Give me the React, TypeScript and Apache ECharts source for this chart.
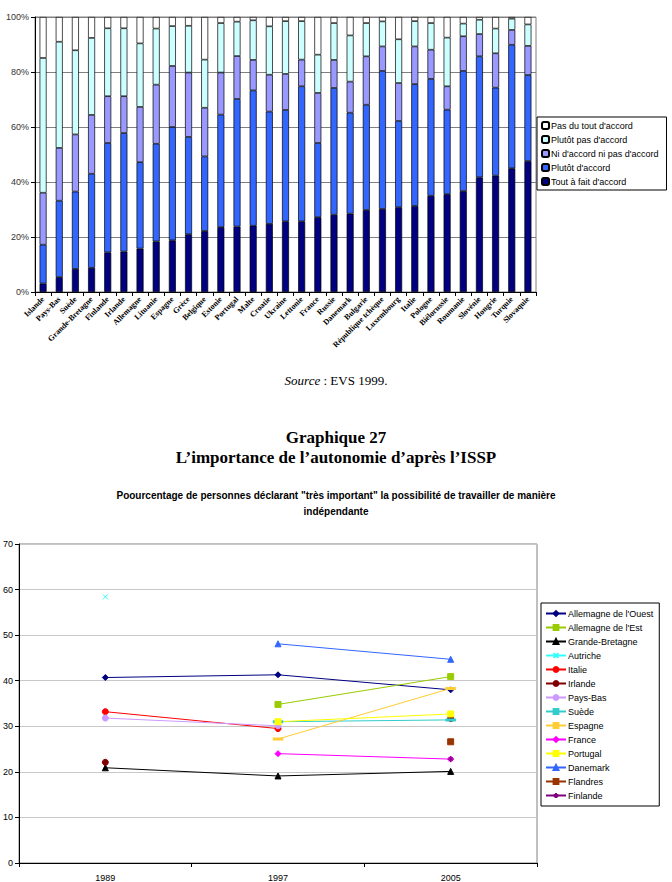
import React, { useEffect, useRef } from "react";
import * as echarts from "echarts";

// ---------- Bar chart data (EVS 1999) ----------
const countries = [
  "Islande", "Pays-Bas", "Suède", "Grande-Bretagne", "Finlande", "Irlande", "Allemagne", "Lituanie",
  "Espagne", "Grèce", "Belgique", "Estonie", "Portugal", "Malte", "Croatie", "Ukraine", "Lettonie",
  "France", "Russie", "Danemark", "Bulgarie", "République tchèque", "Luxembourg", "Italie", "Pologne",
  "Biélorussie", "Roumanie", "Slovénie", "Hongrie", "Turquie", "Slovaquie",
];
const toutAFait = [3.1, 5.4, 8.4, 8.8, 14.4, 14.7, 15.8, 18.4, 18.8, 21.0, 22.2, 23.6, 23.8, 24.1, 24.8, 25.7, 25.7, 27.2, 28.1, 28.5, 29.8, 30.2, 30.8, 31.3, 35.0, 35.6, 36.7, 41.7, 42.3, 45.0, 47.6];
const plutotAccord = [14.1, 27.8, 28.1, 34.2, 39.8, 43.1, 31.4, 35.5, 41.2, 35.4, 27.1, 40.9, 46.4, 49.2, 40.8, 40.5, 49.1, 27.0, 46.1, 36.7, 38.3, 50.2, 31.4, 44.3, 42.5, 30.7, 43.7, 44.0, 32.0, 44.9, 31.3];
const niNi = [18.9, 19.2, 20.8, 21.4, 17.0, 13.4, 20.1, 21.5, 22.2, 23.4, 17.7, 15.3, 15.6, 11.1, 13.4, 13.1, 9.7, 18.2, 10.2, 11.3, 17.6, 8.9, 13.8, 13.7, 10.6, 8.5, 12.6, 8.1, 12.5, 5.4, 10.6];
const plutotPas = [49.0, 38.6, 30.6, 28.0, 24.7, 24.7, 23.1, 20.4, 14.5, 17.0, 17.5, 18.0, 12.5, 14.4, 17.6, 19.2, 14.0, 13.9, 13.4, 16.8, 12.1, 9.1, 15.9, 9.2, 9.7, 17.7, 4.6, 5.2, 9.0, 4.1, 7.8];
const pasDuTout = [14.9, 9.0, 12.1, 7.6, 4.1, 4.1, 9.6, 4.2, 3.3, 3.2, 15.5, 2.2, 1.7, 1.2, 3.4, 1.5, 1.5, 13.7, 2.2, 6.7, 2.2, 1.6, 8.1, 1.5, 2.2, 7.5, 2.4, 1.0, 4.2, 0.6, 2.7];
const barTicks = [0, 20, 40, 60, 80, 100];

// ---------- Line chart data (ISSP) ----------
const years = ["1989", "1997", "2005"];
const ouest = [40.7, 41.3, 38.0];
const est = [null, 34.8, 40.9];
const grandeBretagne = [20.9, 19.1, 20.1];
const autriche = [58.4, null, null];
const italie = [33.2, 29.5, null];
const irlande = [22.1, null, 31.7];
const paysBas = [31.8, 30.1, null];
const suede = [null, 31.0, 31.4];
const espagne = [null, 27.2, 38.3];
const france = [null, 24.0, 22.8];
const portugal = [null, 31.0, 32.7];
const danemark = [null, 48.1, 44.7];
const flandres = [null, null, 26.6];
const finlande = [null, null, 22.8];

const SANS = "Liberation Sans, Arial, sans-serif";
const SERIF = "Liberation Serif, Times New Roman, serif";

const X_PATH = "path://M0 0L10 10M10 0L0 10";
const STAR_PATH = "path://M5 0L5 10M0 5L10 5M1.5 1.5L8.5 8.5M8.5 1.5L1.5 8.5";

export default function App() {
  const ref = useRef<HTMLDivElement>(null);

  useEffect(() => {
    if (!ref.current) return;
    const chart = echarts.init(ref.current, null, { renderer: "svg" });

    const barSeries = (name: string, data: number[], color: string) => ({
      name,
      type: "bar",
      stack: "total",
      xAxisIndex: 0,
      yAxisIndex: 0,
      barWidth: 7,
      data,
      itemStyle: { color, borderColor: "#000", borderWidth: 0.7 },
    });

    const lineSeries = (
      name: string,
      data: (number | null)[],
      color: string,
      symbol: string,
      symbolSize: number | number[] = 6
    ) => ({
      name,
      type: "line",
      xAxisIndex: 1,
      yAxisIndex: 1,
      data,
      symbol,
      symbolSize,
      showAllSymbol: true,
      connectNulls: false,
      lineStyle: { color, width: 1 },
      itemStyle: { color, borderColor: color, borderWidth: 1 },
    });

    const centerText = (text: string, y: number, font: string, size: number, weight: string, style = "normal") => ({
      type: "text",
      x: 336,
      y,
      style: {
        text,
        x: 0,
        y: 0,
        textAlign: "center",
        textVerticalAlign: "middle",
        fontFamily: font,
        fontSize: size,
        fontWeight: weight,
        fontStyle: style,
        fill: "#000",
      },
    });

    chart.setOption({
      animation: false,
      backgroundColor: "#fff",
      graphic: [
        {
          type: "text",
          x: 336,
          y: 380,
          style: {
            text: "{i|Source} : EVS 1999.",
            textAlign: "center",
            textVerticalAlign: "middle",
            fontFamily: SERIF,
            fontSize: 13,
            fill: "#000",
            rich: { i: { fontFamily: SERIF, fontSize: 13, fontStyle: "italic", fill: "#000" } },
          },
        },
        centerText("Graphique 27", 437, SERIF, 17, "bold"),
        centerText("L\u2019importance de l\u2019autonomie d\u2019après l\u2019ISSP", 457, SERIF, 17, "bold"),
        centerText(
          'Poourcentage de personnes déclarant "très important" la possibilité de travailler de manière',
          495, SANS, 10, "bold"
        ),
        centerText("indépendante", 511, SANS, 10, "bold"),
      ],
      legend: [
        {
          orient: "vertical",
          left: 537,
          top: 117,
          width: 130,
          padding: [4, 8, 4, 4],
          itemGap: 5,
          itemWidth: 7,
          itemHeight: 7,
          borderColor: "#000",
          borderWidth: 1,
          data: ["Pas du tout d'accord", "Plutôt pas d'accord", "Ni d'accord ni pas d'accord", "Plutôt d'accord", "Tout à fait d'accord"],
          textStyle: { fontFamily: SANS, fontSize: 9, color: "#000", padding: [0, 0, 0, -3] },
          selectedMode: false,
        },
        {
          orient: "vertical",
          left: 541,
          top: 603,
          padding: [6, 6, 6, 4],
          itemGap: 5,
          itemWidth: 20,
          itemHeight: 6,
          borderColor: "#000",
          borderWidth: 1,
          data: [
            "Allemagne de l'Ouest", "Allemagne de l'Est", "Grande-Bretagne", "Autriche", "Italie", "Irlande",
            "Pays-Bas", "Suède", "Espagne", "France", "Portugal", "Danemark", "Flandres", "Finlande",
          ],
          textStyle: { fontFamily: SANS, fontSize: 9, color: "#000", padding: [0, 0, 0, -3] },
          selectedMode: false,
        },
      ],
      grid: [
        { left: 35, top: 17, width: 501, height: 275, show: true, borderColor: "#808080", borderWidth: 1, containLabel: false },
        { left: 19, top: 544, width: 518, height: 319, show: true, borderColor: "#808080", borderWidth: 1, containLabel: false },
      ],
      xAxis: [
        {
          type: "category",
          gridIndex: 0,
          data: countries,
          axisLine: { lineStyle: { color: "#000", width: 1 } },
          axisTick: { show: true, interval: 0, length: 4, lineStyle: { color: "#000" } },
          axisLabel: {
            interval: 0,
            rotate: 45,
            fontFamily: SERIF,
            fontWeight: "bold",
            fontSize: 8,
            color: "#000",
            margin: 6,
          },
        },
        {
          type: "category",
          gridIndex: 1,
          data: years,
          axisLine: { lineStyle: { color: "#000", width: 1 } },
          axisTick: { show: true, interval: 0, length: 4, lineStyle: { color: "#000" } },
          axisLabel: { fontFamily: SANS, fontSize: 9, color: "#000", margin: 10 },
        },
      ],
      yAxis: [
        {
          type: "value",
          gridIndex: 0,
          min: barTicks[0],
          max: barTicks[barTicks.length - 1],
          interval: 20,
          axisLine: { show: true, lineStyle: { color: "#000" } },
          axisTick: { show: true, length: 4, lineStyle: { color: "#000" } },
          axisLabel: { formatter: "{value}%", fontFamily: SANS, fontSize: 9, color: "#333", margin: 6 },
          splitLine: { show: true, lineStyle: { color: "#808080", width: 1 } },
        },
        {
          type: "value",
          gridIndex: 1,
          min: 0,
          max: 70,
          interval: 10,
          axisLine: { show: true, lineStyle: { color: "#000" } },
          axisTick: { show: true, length: 4, lineStyle: { color: "#000" } },
          axisLabel: { fontFamily: SANS, fontSize: 9, color: "#000", margin: 6 },
          splitLine: { show: true, lineStyle: { color: "#c8c8c8", width: 1 } },
        },
      ],
      series: [
        barSeries("Tout à fait d'accord", toutAFait, "#000080"),
        barSeries("Plutôt d'accord", plutotAccord, "#3366FF"),
        barSeries("Ni d'accord ni pas d'accord", niNi, "#9999FF"),
        barSeries("Plutôt pas d'accord", plutotPas, "#CCFFFF"),
        barSeries("Pas du tout d'accord", pasDuTout, "#FFFFFF"),
        lineSeries("Allemagne de l'Ouest", ouest, "#000080", "diamond", 6),
        lineSeries("Allemagne de l'Est", est, "#99CC00", "rect", 6),
        lineSeries("Grande-Bretagne", grandeBretagne, "#000000", "triangle", 6),
        lineSeries("Autriche", autriche, "#33FFFF", X_PATH, 5),
        lineSeries("Italie", italie, "#FF0000", "circle", 6),
        lineSeries("Irlande", irlande, "#800000", "circle", 6),
        lineSeries("Pays-Bas", paysBas, "#CC99FF", "circle", 6),
        lineSeries("Suède", suede, "#33CCCC", "rect", [7, 2]),
        lineSeries("Espagne", espagne, "#FFCC33", "rect", [7, 2]),
        lineSeries("France", france, "#FF00FF", "diamond", 6),
        lineSeries("Portugal", portugal, "#FFFF00", "rect", 6),
        lineSeries("Danemark", danemark, "#3366FF", "triangle", 6),
        lineSeries("Flandres", flandres, "#993300", "rect", 6),
        lineSeries("Finlande", finlande, "#800080", STAR_PATH, 6),
      ],
    });

    return () => chart.dispose();
  }, []);

  return (
    <div
      ref={ref}
      style={{ position: "absolute", left: 0, top: 0, width: 672, height: 882, background: "#fff" }}
    />
  );
}
